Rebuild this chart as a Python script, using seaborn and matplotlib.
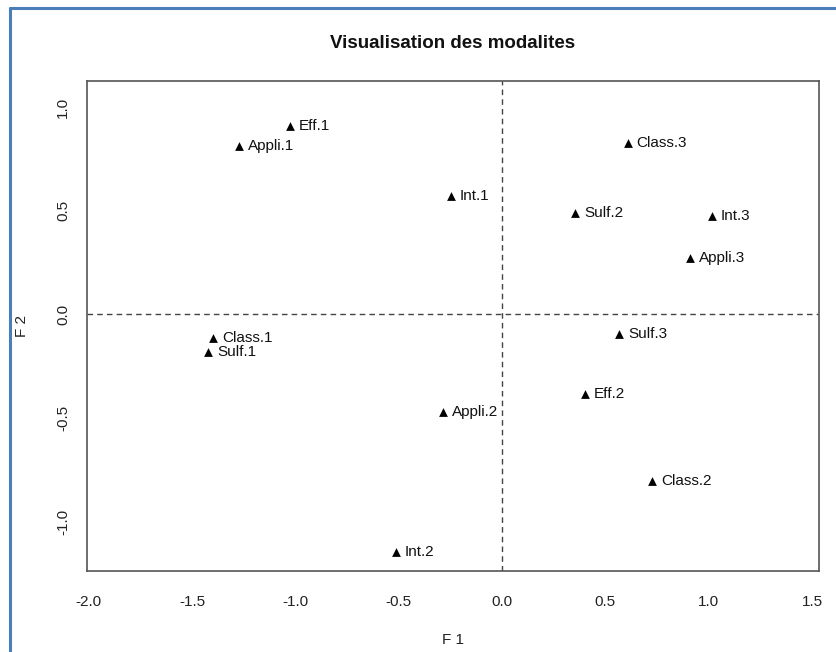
import matplotlib
matplotlib.use("Agg")
import matplotlib.pyplot as plt
from matplotlib.lines import Line2D
import seaborn as sns
import pandas as pd

labels = ["Eff.1", "Appli.1", "Int.1", "Class.3", "Sulf.2", "Int.3", "Appli.3",
          "Class.1", "Sulf.1", "Sulf.3", "Eff.2", "Appli.2", "Class.2", "Int.2"]
f1 = [-1.025, -1.271, -0.247, 0.608, 0.353, 1.014, 0.910,
      -1.397, -1.421, 0.568, 0.400, -0.284, 0.727, -0.513]
f2 = [0.909, 0.811, 0.572, 0.824, 0.490, 0.474, 0.270,
      -0.111, -0.180, -0.096, -0.385, -0.471, -0.804, -1.145]
xticks = [-2.0, -1.5, -1.0, -0.5, 0.0, 0.5, 1.0, 1.5]
yticks = [-1.0, -0.5, 0.0, 0.5, 1.0]

df = pd.DataFrame({"F1": f1, "F2": f2, "label": labels})

sns.set_style("white")
plt.rcParams["font.family"] = ["Liberation Sans", "DejaVu Sans"]

fig = plt.figure(figsize=(8.37, 6.52), dpi=100)
ax = fig.add_axes([87 / 837, 1 - 571 / 652, (819 - 87) / 837, (571 - 81) / 652])

sns.scatterplot(data=df, x="F1", y="F2", marker="^", color="black",
                s=40, edgecolor="black", linewidth=0, ax=ax, zorder=3)
for x, y, t in zip(f1, f2, labels):
    ax.annotate(t, (x, y), xytext=(6.5, 0), textcoords="offset points",
                ha="left", va="center", fontsize=11, color="#111111")

ax.axhline(0, color="#444444", lw=1, ls=(0, (4, 3)), zorder=1)
ax.axvline(0, color="#444444", lw=1, ls=(0, (4, 3)), zorder=1)

ax.set_xlim(-2.008, 1.534)
ax.set_ylim(-1.236, 1.125)
ax.set_xticks(xticks)
ax.set_yticks(yticks)
ax.set_xticklabels([f"{v:.1f}" for v in xticks])
ax.set_yticklabels([f"{v:.1f}" for v in yticks], rotation=90, va="center")

for sp in ax.spines.values():
    sp.set_visible(True)
    sp.set_color("#555555")
    sp.set_linewidth(1.2)

ax.tick_params(axis="both", direction="out", length=6, width=1, color="#555555",
               labelsize=11, labelcolor="#222222")
ax.tick_params(axis="x", pad=11)
ax.tick_params(axis="y", pad=6)

ax.set_xlabel("F 1", fontsize=11, color="#222222")
ax.set_ylabel("F 2", fontsize=11, color="#222222")
ax.xaxis.set_label_coords(0.5, -(640 - 571) / (571 - 81))
ax.yaxis.set_label_coords(-(87 - 22) / (819 - 87), 0.5)
ax.yaxis.label.set_va("center")
ax.xaxis.label.set_va("center")

fig.text(453 / 837, 1 - 43 / 652, "Visualisation des modalites", ha="center",
         va="center", fontsize=13.5, fontweight="bold", color="#111111")

blue = "#4a7ebb"
fig.add_artist(Line2D([10 / 837, 1.0], [1 - 8 / 652, 1 - 8 / 652],
                      color=blue, lw=2.2, transform=fig.transFigure))
fig.add_artist(Line2D([10 / 837, 10 / 837], [0, 1 - 8 / 652],
                      color=blue, lw=2.2, transform=fig.transFigure))

fig.savefig("out.png", dpi=100)
